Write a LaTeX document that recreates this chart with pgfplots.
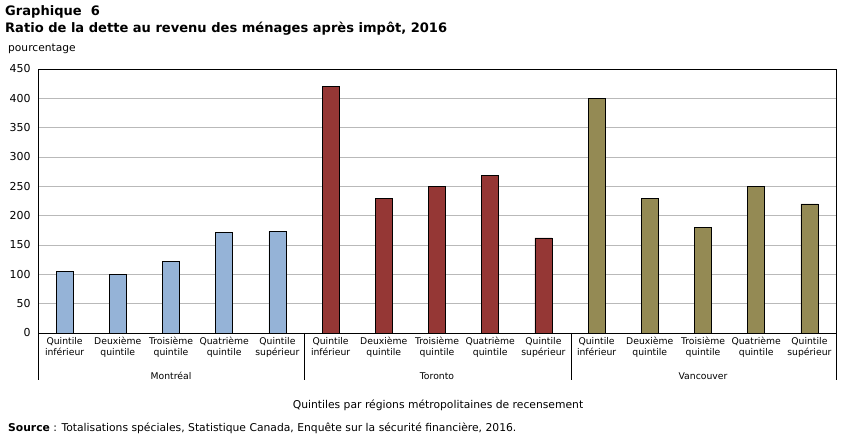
\documentclass[border=0pt]{standalone}
\usepackage{fontspec}
\setmainfont{DejaVu Sans}
\usepackage{pgfplots}
\pgfplotsset{compat=1.18}
\definecolor{cblue}{HTML}{95B3D7}
\definecolor{cred}{HTML}{953735}
\definecolor{colive}{HTML}{948A54}
\begin{document}
\begin{tikzpicture}[x=1bp,y=1bp]
\useasboundingbox (0,0) rectangle (851,448);
\node[anchor=north west,inner sep=0pt,font=\fontsize{13.1}{15}\selectfont\bfseries] at (5,443) {Graphique\ \ 6};
\node[anchor=north west,inner sep=0pt,font=\fontsize{13.1}{15}\selectfont\bfseries] at (5,426) {Ratio de la dette au revenu des ménages après impôt, 2016};
\node[anchor=north west,inner sep=0pt,font=\fontsize{10.7}{12}\selectfont] at (8,404) {pourcentage};
\begin{axis}[
  at={(38bp,115bp)}, anchor=south west, scale only axis,
  width=798bp, height=264bp,
  xmin=-0.5, xmax=14.5, ymin=0, ymax=450,
  ytick={0,50,...,450},
  xtick={0,...,14},
  xticklabels={{Quintile\\inférieur},{Deuxième\\quintile},{Troisième\\quintile},{Quatrième\\quintile},{Quintile\\supérieur},
               {Quintile\\inférieur},{Deuxième\\quintile},{Troisième\\quintile},{Quatrième\\quintile},{Quintile\\supérieur},
               {Quintile\\inférieur},{Deuxième\\quintile},{Troisième\\quintile},{Quatrième\\quintile},{Quintile\\supérieur}},
  xticklabel style={align=center, font=\fontsize{9.3}{11}\selectfont, yshift=-1bp},
  yticklabel style={font=\fontsize{11}{13}\selectfont, xshift=-4bp},
  /pgf/number format/assume math mode=true,
  major tick length=0pt,
  ymajorgrids, grid style={gray!55, line width=0.8pt},
  axis line style={black, line width=0.8pt},
  ybar, bar width=17bp, bar shift=0pt,
]
\addplot[fill=cblue, draw=black, line width=0.7pt] coordinates {(0,105) (1,100) (2,122) (3,172) (4,173)};
\addplot[fill=cred, draw=black, line width=0.7pt] coordinates {(5,420) (6,230) (7,250) (8,269) (9,162)};
\addplot[fill=colive, draw=black, line width=0.7pt] coordinates {(10,400) (11,230) (12,180) (13,250) (14,220)};
\end{axis}
\foreach \xx in {38,304.5,571,836} \draw[black, line width=0.8pt] (\xx,115) -- (\xx,68);
\begin{scope}[every node/.style={inner sep=0pt, font=\fontsize{9.3}{11}\selectfont}]
\node at (171,72) {Montréal};
\node at (437,72) {Toronto};
\node at (703,72) {Vancouver};
\end{scope}
\node[inner sep=0pt,font=\fontsize{10.8}{12}\selectfont] at (438,43) {Quintiles par régions métropolitaines de recensement};
\node[anchor=west,inner sep=0pt,font=\fontsize{10.8}{12}\selectfont] at (8,20) {\textbf{Source} : Totalisations spéciales, Statistique Canada, Enquête sur la sécurité financière, 2016.};
\end{tikzpicture}
\end{document}
